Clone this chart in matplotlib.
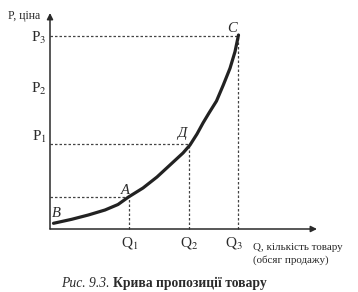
import matplotlib
matplotlib.use("Agg")
import matplotlib.pyplot as plt

plt.rcParams['font.family'] = ['Liberation Serif', 'DejaVu Serif']
plt.rcParams['mathtext.fontset'] = 'stix'

# Supply curve points (Q, P) (arbitrary units)
curve_q = [0.35, 2.17, 3.83, 5.5, 6.8, 7.85, 9.3, 10.7, 12.0, 13.3, 14.0,
           14.7, 15.3, 15.9, 16.65, 17.33, 18.0, 18.5, 18.85]
curve_p = [0.57, 0.97, 1.4, 1.9, 2.45, 3.2, 4.1, 5.2, 6.4, 7.6, 8.4,
           9.5, 10.6, 11.6, 12.8, 14.4, 16.07, 17.73, 19.4]

# Marked points on the curve
point_names = ['A', 'Д', 'C']
point_q = [7.85, 13.9, 18.8]
point_p = [3.25, 8.5, 19.3]

q_labels = ['Q$_1$', 'Q$_2$', 'Q$_3$']
q_label_pos = [8.0, 13.9, 18.4]
p_labels = ['P$_1$', 'P$_2$', 'P$_3$']
p_label_pos = [8.8, 13.6, 18.7]

fig = plt.figure(figsize=(3.58, 2.92), dpi=100)
ax = fig.add_axes([0, 0, 1, 1])
ax.set_xlim(-5, 30.8)
ax.set_ylim(-6.3, 22.9)
ax.axis('off')

ink = '#2a2a2a'
# axes with arrows
ax.annotate('', xy=(26.7, 0), xytext=(0, 0),
            arrowprops=dict(arrowstyle='-|>', color=ink, lw=1.1,
                            mutation_scale=9, shrinkA=0, shrinkB=0))
ax.annotate('', xy=(0, 21.6), xytext=(0, 0),
            arrowprops=dict(arrowstyle='-|>', color=ink, lw=1.1,
                            mutation_scale=9, shrinkA=0, shrinkB=0))

# guide lines
dash = dict(color='#444444', lw=0.9, linestyle=(0, (2, 1.6)))
for q, p in zip(point_q, point_p):
    ax.plot([0, q], [p, p], **dash)
    ax.plot([q, q], [0, p], **dash)

# curve
ax.plot(curve_q, curve_p, color='#222222', lw=2.3, solid_capstyle='round',
        solid_joinstyle='round')

# point labels
ax.text(7.5, 3.9, 'A', fontsize=10.5, style='italic', ha='center', va='center', color=ink)
ax.text(13.2, 9.5, 'Д', fontsize=10.5, style='italic', ha='center', va='center', color=ink)
ax.text(18.2, 20.0, 'C', fontsize=10.5, style='italic', ha='center', va='center', color=ink)
ax.text(0.6, 1.55, 'B', fontsize=10.5, style='italic', ha='center', va='center', color=ink)

# P labels
for lab, y in zip(p_labels, p_label_pos):
    ax.text(-1.1, y, lab, fontsize=11, ha='center', va='baseline', color=ink)
ax.text(-4.2, 21.3, 'P, ціна', fontsize=8.5, ha='left', va='center', color=ink)

# Q labels
for lab, x in zip(q_labels, q_label_pos):
    ax.text(x, -1.75, lab, fontsize=11, ha='center', va='baseline', color=ink)
ax.text(20.3, -1.87, 'Q, кількість товару', fontsize=7.9, ha='left', va='center', color=ink)
ax.text(20.3, -3.1, '(обсяг продажу)', fontsize=7.9, ha='left', va='center', color=ink)

# caption
ax.text(6.3, -5.45, 'Рис. 9.3. ', fontsize=9.8, style='italic', ha='right', va='center', color=ink)
ax.text(6.3, -5.45, 'Крива пропозиції товару', fontsize=9.8, weight='bold', ha='left', va='center', color=ink)

fig.savefig('out.png', dpi=100, facecolor='white')
